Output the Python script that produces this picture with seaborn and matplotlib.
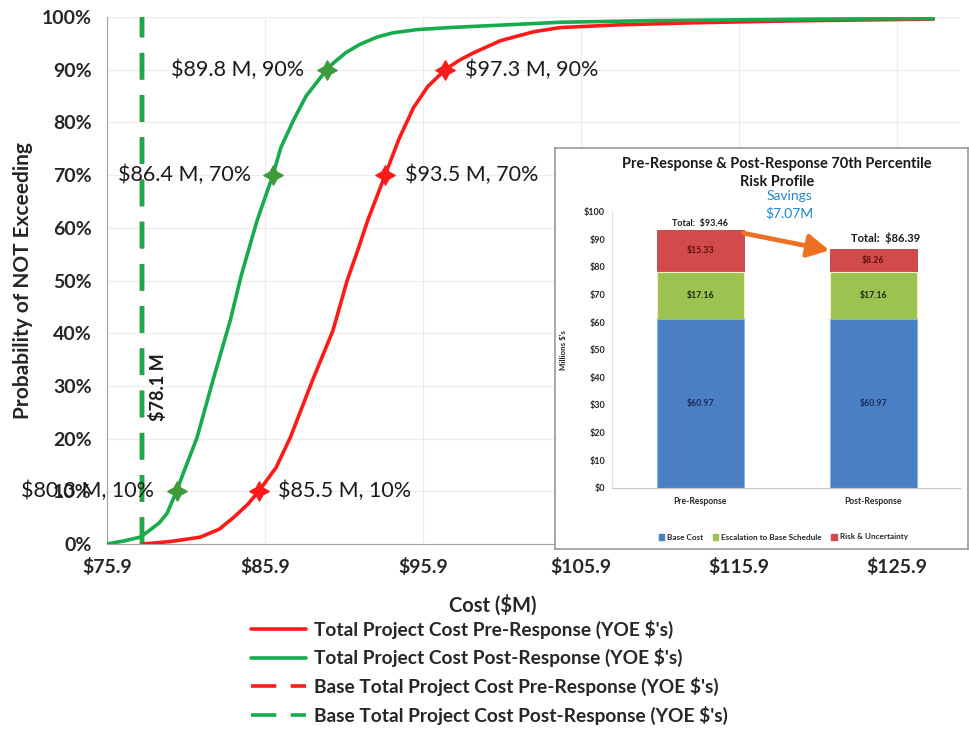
import matplotlib
matplotlib.use('Agg')
import matplotlib.pyplot as plt
from matplotlib.lines import Line2D
from matplotlib.patches import Patch
import pandas as pd
import seaborn as sns

# S-curves: cost ($M) vs probability of not exceeding
pre_cost = [78.2, 80.0, 81.8, 83.0, 83.9, 84.8, 85.5, 86.6, 87.5, 88.9, 90.2, 91.1,
            91.8, 92.4, 93.5, 94.4, 95.3, 96.2, 97.3, 98.2, 99.1, 100.8, 102.9,
            104.6, 108.2, 113.0, 119.8, 128.2]
pre_prob = [0.0, 0.005, 0.013, 0.028, 0.05, 0.075, 0.10, 0.145, 0.202, 0.31, 0.405, 0.50,
            0.56, 0.614, 0.70, 0.77, 0.828, 0.868, 0.90, 0.918, 0.932, 0.955, 0.972,
            0.98, 0.985, 0.989, 0.993, 0.996]
post_cost = [75.9, 77.0, 78.0, 78.6, 79.2, 79.7, 80.3, 80.8, 81.6, 82.6, 83.7, 84.4,
             85.4, 86.4, 86.9, 87.7, 88.5, 89.8, 90.2, 91.0, 91.9, 93.0, 94.0, 95.5,
             97.6, 104.6, 110.0, 120.9, 128.2]
post_prob = [0.0, 0.006, 0.013, 0.026, 0.04, 0.058, 0.10, 0.14, 0.202, 0.31, 0.424, 0.51,
             0.614, 0.70, 0.752, 0.804, 0.85, 0.90, 0.912, 0.932, 0.948, 0.962, 0.970, 0.976,
             0.980, 0.99, 0.993, 0.996, 0.997]

# labelled percentile points
pre_mark_cost = [85.5, 93.5, 97.3]
pre_mark_prob = [0.10, 0.70, 0.90]
post_mark_cost = [80.3, 86.4, 89.8]
post_mark_prob = [0.10, 0.70, 0.90]

base_pre = 78.1
base_post = 78.1

x_ticks = [75.9, 85.9, 95.9, 105.9, 115.9, 125.9]
y_ticks = [0.0, 0.1, 0.2, 0.3, 0.4, 0.5, 0.6, 0.7, 0.8, 0.9, 1.0]

legend_labels = ["Total Project Cost Pre-Response (YOE $'s)",
                 "Total Project Cost Post-Response (YOE $'s)",
                 "Base Total Project Cost Pre-Response (YOE $'s)",
                 "Base Total Project Cost Post-Response (YOE $'s)"]

# inset: 70th percentile stack
stack_cats = ['Pre-Response', 'Post-Response']
base_cost = [60.97, 60.97]
escalation = [17.16, 17.16]
risk = [15.33, 8.26]
stack_names = ['Base Cost', 'Escalation to Base Schedule', 'Risk & Uncertainty']
inset_ticks = [0, 10, 20, 30, 40, 50, 60, 70, 80, 90, 100]

RED = '#ff1a1a'
GREEN = '#16ab4c'
BLUE = '#4a7fc4'
LGREEN = '#9cc24f'
DRED = '#d24b4b'

sns.set_style('white')
plt.rcParams['font.family'] = ['Lato', 'DejaVu Sans']

W, H = 970, 730
fig = plt.figure(figsize=(9.7, 7.3), dpi=100)

# ---- main S-curve chart
ax = fig.add_axes([107 / W, 1 - 544 / H, (960 - 107) / W, 527 / H])
sns.lineplot(x=pre_cost, y=pre_prob, color=RED, lw=2.6, ax=ax, zorder=4)
sns.lineplot(x=post_cost, y=post_prob, color=GREEN, lw=2.6, ax=ax, zorder=4)
ax.axvline(base_pre, color=RED, lw=3.2, ls=(0, (6, 3.5)), zorder=3)
ax.axvline(base_post, color=GREEN, lw=3.2, ls=(0, (6, 3.5)), zorder=3)
sns.scatterplot(x=pre_mark_cost, y=pre_mark_prob, marker=(4, 1, 0), s=190,
                color=RED, edgecolor=RED, ax=ax, zorder=5)
sns.scatterplot(x=post_mark_cost, y=post_mark_prob, marker=(4, 1, 0), s=190,
                color='#3f9a3c', edgecolor='#3f9a3c', ax=ax, zorder=5)

for c, p in zip(pre_mark_cost, pre_mark_prob):
    ax.annotate(f'${c:.1f} M, {p:.0%}', (c, p), xytext=(14, 0), textcoords='offset points',
                ha='left', va='center', fontsize=15.5, color='#1a1a1a', zorder=6)
for c, p in zip(post_mark_cost, post_mark_prob):
    ax.annotate(f'${c:.1f} M, {p:.0%}', (c, p), xytext=(-16, 0), textcoords='offset points',
                ha='right', va='center', fontsize=15.5, color='#1a1a1a', zorder=6)
ax.text(base_post + 1.0, 0.297, f'${base_post:.1f} M', rotation=90, ha='center', va='center',
        fontsize=13, fontweight='bold', color='#1a1a1a')

ax.set_xlim(75.9, 75.9 + (960 - 107) / 15.8)
ax.set_ylim(0, 1)
ax.set_xticks(x_ticks)
ax.set_xticklabels([f'${v:.1f}' for v in x_ticks], fontsize=14, fontweight='bold')
ax.set_yticks(y_ticks)
ax.set_yticklabels([f'{v:.0%}' for v in y_ticks], fontsize=14, fontweight='bold')
ax.tick_params(axis='both', direction='out', length=6, color='#a0a0a0', width=1)
ax.tick_params(axis='y', pad=5)
ax.tick_params(axis='x', pad=4)
ax.grid(True, color='#ececec', lw=0.8)
for s in ['top', 'right']:
    ax.spines[s].set_visible(False)
for s in ['left', 'bottom']:
    ax.spines[s].set_color('#a0a0a0')
ax.set_ylabel('Probability of NOT Exceeding', fontsize=15, fontweight='bold', labelpad=6)
ax.set_xlabel('Cost ($M)', fontsize=14.5, fontweight='bold')
ax.xaxis.set_label_coords((493 - 107) / (960 - 107), -0.095)

handles = [Line2D([], [], color=RED, lw=2.6),
           Line2D([], [], color=GREEN, lw=2.6),
           Line2D([], [], color=RED, lw=2.6, ls=(0, (7, 4))),
           Line2D([], [], color=GREEN, lw=2.6, ls=(0, (7, 4)))]
fig.legend(handles, legend_labels, loc='upper left', bbox_to_anchor=(243 / W, 1 - 612 / H),
           frameon=False, prop={'size': 13.8, 'weight': 'bold'}, handlelength=2.9,
           handletextpad=0.4, labelspacing=0.5, borderaxespad=0)

# ---- inset panel
box = fig.add_axes([555 / W, 1 - 549 / H, (968 - 555) / W, (549 - 148) / H])
box.set_xticks([])
box.set_yticks([])
box.set_facecolor('white')
for s in box.spines.values():
    s.set_color('#9a9a9a')
    s.set_linewidth(1.2)

iax = fig.add_axes([612 / W, 1 - 487.7 / H, 348 / W, 276 / H])
df = pd.DataFrame({'cat': stack_cats, 'base': base_cost, 'esc': escalation, 'risk': risk})
df['mid'] = df['base'] + df['esc']
df['total'] = df['mid'] + df['risk']
sns.barplot(data=df, x='cat', y='total', color=DRED, saturation=1, width=0.5,
            edgecolor='#b84040', linewidth=0.6, ax=iax)
sns.barplot(data=df, x='cat', y='mid', color=LGREEN, saturation=1, width=0.5,
            edgecolor='#f4f0c0', linewidth=0.8, ax=iax)
sns.barplot(data=df, x='cat', y='base', color=BLUE, saturation=1, width=0.5,
            edgecolor='#8ab4e4', linewidth=0.8, ax=iax)

for i, row in df.iterrows():
    iax.text(i, row['base'] / 2, f"${row['base']:.2f}", ha='center', va='center',
             fontsize=6.3, fontweight='bold', color='#1b2a5a')
    iax.text(i, row['base'] + row['esc'] / 2, f"${row['esc']:.2f}", ha='center', va='center',
             fontsize=6.3, fontweight='bold', color='#1f2a10')
    iax.text(i, row['mid'] + row['risk'] / 2, f"${row['risk']:.2f}", ha='center', va='center',
             fontsize=6.3, fontweight='bold', color='#5a0d0d')
iax.text(0, df['total'][0] + 2.4, f"Total:  ${df['total'][0]:.2f}", ha='center', va='center',
         fontsize=6.5, fontweight='bold', color='#1a1a1a')
iax.text(1.07, df['total'][1] + 4.0, f"Total:  ${df['total'][1]:.2f}", ha='center', va='center',
         fontsize=8, fontweight='bold', color='#1a1a1a')
iax.annotate('', xy=(0.745, 86.0), xytext=(0.25, 92.2),
             arrowprops=dict(arrowstyle='-|>,head_length=1.3,head_width=0.7',
                             color='#ee7022', lw=3.4, shrinkA=0, shrinkB=0))

iax.set_xlim(-0.51, 1.5)
iax.set_ylim(0, 100)
iax.set_yticks(inset_ticks)
iax.set_yticklabels([f'${v}' for v in inset_ticks], fontsize=6.5, fontweight='bold')
iax.tick_params(axis='y', length=2, color='#c8c8c8', pad=3)
iax.tick_params(axis='x', length=0, labelsize=6.2, pad=7)
for lbl in iax.get_xticklabels():
    lbl.set_fontweight('bold')
iax.set_xlabel('')
iax.set_ylabel("Millions $'s", fontsize=5.8, fontweight='bold', labelpad=12)
iax.spines['top'].set_visible(False)
iax.spines['right'].set_visible(False)
iax.spines['left'].set_color('#e0e0e0')
iax.spines['bottom'].set_color('#c8c8c8')
iax.set_facecolor('none')

fig.text(777 / W, 1 - 173 / H, 'Pre-Response & Post-Response 70th Percentile\nRisk Profile',
         ha='center', va='center', fontsize=10.5, fontweight='bold', color='#1a1a1a',
         linespacing=1.4)
fig.text(789 / W, 1 - 205 / H, 'Savings\n$7.07M', ha='center', va='center',
         fontsize=10, color='#1c86d4', linespacing=1.5)

stack_handles = [Patch(color=BLUE), Patch(color=LGREEN), Patch(color=DRED)]
fig.legend(stack_handles, stack_names, loc='center', bbox_to_anchor=(783 / W, 1 - 537 / H),
           ncol=3, frameon=False, prop={'size': 5.9, 'weight': 'bold'}, handlelength=0.7,
           handleheight=0.7, handletextpad=0.3, columnspacing=1.2)

fig.savefig('out.png', dpi=100)
